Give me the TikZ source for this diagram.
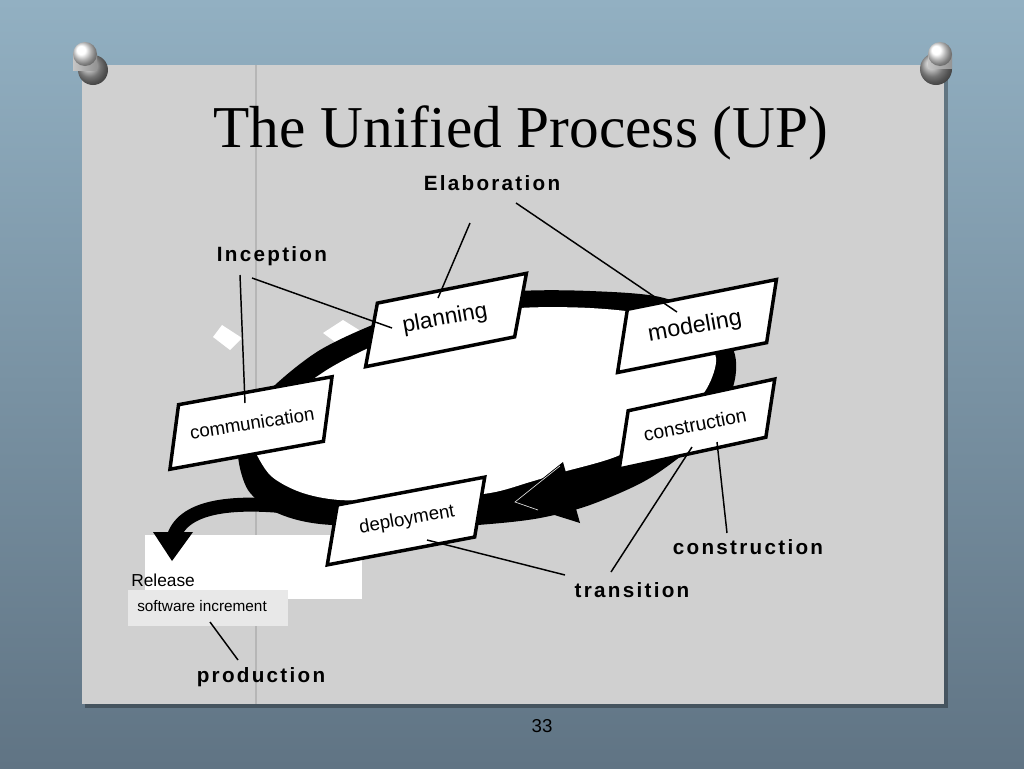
\documentclass[tikz,border=0pt]{standalone}
\usepackage{fontspec}
\setmainfont{Liberation Serif}
\newfontfamily\labelfont[LetterSpace=11]{Liberation Sans Bold}
\newfontfamily\boxfont{Liberation Sans}
\newfontfamily\notefont{Liberation Sans}
\definecolor{slidegray}{RGB}{208,208,208}
\definecolor{bgtop}{RGB}{146,176,194}
\definecolor{bgbot}{RGB}{96,116,132}
\definecolor{guidegray}{RGB}{182,182,182}
\definecolor{incgray}{RGB}{232,232,232}
\tikzset{
  phase/.style={draw=black, fill=white, line width=2.6pt, line join=miter},
  phasetext/.style={inner sep=0pt},
  stage/.style={font=\labelfont\fontsize{15.5}{18}\selectfont, inner sep=1pt},
  leader/.style={line width=1.1pt},
  note/.style={inner sep=0pt},
  pinhead/.style={ball color=white},
}
\begin{document}
\begin{tikzpicture}[x=0.75pt, y=-0.75pt]
\useasboundingbox (0,0) rectangle (1024,768);
\shade[top color=bgtop, bottom color=bgbot] (0,0) rectangle (1024,768);

\fill[black, opacity=0.3] (85,69) rectangle (948,708);
\fill[slidegray] (82,65) rectangle (944,704);
\draw[guidegray, line width=0.8pt] (256,65) -- (256,704);

\shade[ball color=gray!70] (93,70) circle (15);
\shade[left color=gray!45, right color=gray!85] (73,54) rectangle (97,70);
\shade[pinhead] (85,54) circle (12);
\shade[ball color=gray!70] (936,69) circle (16);
\shade[left color=gray!45, right color=gray!85] (928,54) rectangle (952,68);
\shade[pinhead] (940,54) circle (12);

\fill[white] (145,535) rectangle (362,599);
\fill[incgray] (128,590) rectangle (288,626);
\node[note, font=\notefont\fontsize{13}{15}\selectfont, anchor=base west] (rel) at (131,586) {Release};
\node[note, font=\notefont\fontsize{11.5}{13}\selectfont, anchor=base west] (inc) at (137,611) {software increment};

\fill[white] (213,337) -- (222,325) -- (242,338) -- (230,350) -- cycle;
\fill[white] (323,333) -- (343,320) -- (372,338) -- (350,353) -- cycle;

\fill[black] plot[smooth cycle] coordinates {(238,455) (248,490) (275,512) (320,524) (420,528) (490,524) (540,518) (590,505) (650,478) (705,435) (732,390) (735,355) (715,320) (660,297) (590,291) (520,291) (450,300) (380,322) (320,350) (275,385) (245,420)};
\fill[white] plot[smooth cycle] coordinates {(253,445) (270,475) (300,492) (340,500) (420,500) (490,493) (530,482) (563,472) (620,455) (680,420) (707,388) (716,358) (700,335) (650,315) (590,308) (520,308) (450,318) (380,343) (330,368) (285,400) (258,425)};

\draw[line width=10.5pt] (300,508) .. controls (235,500) and (185,505) .. (174,536);
\fill (153,532) -- (193,532) -- (172,561) -- cycle;
\fill (513,502) -- (563,462) -- (580,523) -- cycle;
\draw[gray!25, line width=0.5pt] (560,466) -- (515,502) -- (538,510);

\begin{scope}[shift={(446,320)}, rotate=11.3]
\draw[phase] (-64,-30) -- (88,-30) -- (64,30) -- (-88,30) -- cycle;
\end{scope}
\begin{scope}[shift={(697,326)}, rotate=11.3]
\draw[phase] (-65,-30) -- (87,-30) -- (65,30) -- (-87,30) -- cycle;
\end{scope}
\begin{scope}[shift={(697,424)}, rotate=12.2]
\draw[phase] (-64.5,-27.5) -- (85.5,-27.5) -- (64.5,27.5) -- (-85.5,27.5) -- cycle;
\end{scope}
\begin{scope}[shift={(251,423)}, rotate=10.3]
\draw[phase] (-68,-31) -- (88,-31) -- (68,31) -- (-88,31) -- cycle;
\end{scope}
\begin{scope}[shift={(406,521)}, rotate=10.7]
\draw[phase] (-64.5,-28.5) -- (85.5,-28.5) -- (64.5,28.5) -- (-85.5,28.5) -- cycle;
\end{scope}

\node[phasetext, font=\boxfont\fontsize{17}{20}\selectfont, rotate=10] (plan) at (445,319) {planning};
\node[phasetext, font=\boxfont\fontsize{17.5}{20}\selectfont, rotate=10] (model) at (695,327) {modeling};
\node[phasetext, font=\boxfont\fontsize{14.5}{17}\selectfont, rotate=11] (constr) at (695,425) {construction};
\node[phasetext, font=\boxfont\fontsize{14}{17}\selectfont, rotate=9] (comm) at (252,423) {communication};
\node[phasetext, font=\boxfont\fontsize{14}{17}\selectfont, rotate=10] (deploy) at (407,520) {deployment};

\node[stage] (elab) at (492,183) {Elaboration};
\node[stage] (incep) at (272,256) {Inception};
\node[stage] (cons) at (748,547) {construction};
\node[stage] (trans) at (632,590) {transition};
\node[stage] (prod) at (261,677) {production};

\coordinate (elabA) at (470,223);
\coordinate (elabB) at (516,203);
\coordinate (incA) at (240,275);
\coordinate (incB) at (252,278);
\coordinate (consA) at (727,533);
\coordinate (transA) at (611,572);
\coordinate (transB) at (565,575);
\coordinate (prodA) at (238,660);
\coordinate (planEnd) at (438,298);
\coordinate (modelEnd) at (677,312);
\coordinate (commEnd) at (245,403);
\coordinate (planEndB) at (392,328);
\coordinate (constrEnd) at (717,442);
\coordinate (constrEndB) at (692,447);
\coordinate (deployEnd) at (427,540);
\coordinate (incEnd) at (210,622);

\draw[leader] (elabA) -- (planEnd);
\draw[leader] (elabB) -- (modelEnd);
\draw[leader] (incA) -- (commEnd);
\draw[leader] (incB) -- (planEndB);
\draw[leader] (consA) -- (constrEnd);
\draw[leader] (transA) -- (constrEndB);
\draw[leader] (transB) -- (deployEnd);
\draw[leader] (prodA) -- (incEnd);

\node[font=\fontsize{44.5}{50}\selectfont, anchor=base] (title) at (521,147) {The Unified Process (UP)};
\node[font=\notefont\fontsize{14}{16}\selectfont] (page) at (542,726) {33};
\end{tikzpicture}
\end{document}
